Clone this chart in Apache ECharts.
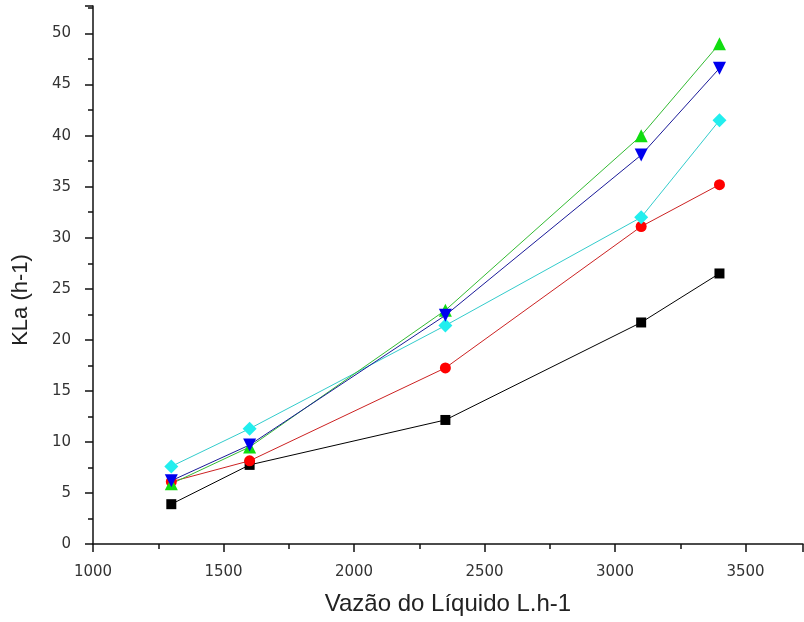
<!DOCTYPE html>
<html>
<head>
<meta charset="utf-8">
<script src="https://cdn.jsdelivr.net/npm/echarts@6/dist/echarts.min.js"></script>
<style>
  html, body { margin: 0; padding: 0; background: #fff; }
  #main { width: 804px; height: 622px; }
</style>
</head>
<body>
<div id="main"></div>
<script>
// vazão do líquido (L/h)
var vazao = [1300, 1600, 2350, 3100, 3400];

// KLa (h-1) de cada série
var serieQuadrado = [3.9, 7.75, 12.15, 21.7, 26.5];
var serieCirculo = [6.1, 8.15, 17.25, 31.1, 35.2];
var serieTriangulo = [5.9, 9.5, 22.9, 40.0, 49.0];
var serieTrianguloInv = [6.2, 9.7, 22.4, 38.1, 46.6];
var serieLosango = [7.6, 11.3, 21.4, 32.0, 41.5];

function pares(ys) {
  return vazao.map(function (x, i) { return [x, ys[i]]; });
}

var chart = echarts.init(document.getElementById('main'));

function serie(ys, symbol, size, cor, corLinha, rot) {
  return {
    type: 'line',
    data: pares(ys),
    symbol: symbol,
    symbolSize: size,
    symbolRotate: rot || 0,
    itemStyle: { color: cor },
    lineStyle: { color: corLinha, width: 1 },
    z: 2
  };
}

var fonte = 'Liberation Sans, Arial, sans-serif';
var fonteNum = 'DejaVu Sans, sans-serif';

var option = {
  backgroundColor: '#ffffff',
  animation: false,
  grid: { left: 93, right: 1, top: 6, bottom: 78, containLabel: false, outerBoundsMode: 'none' },
  xAxis: {
    type: 'value',
    min: 1000,
    max: 3720,
    interval: 500,
    name: 'Vazão do Líquido L.h-1',
    nameLocation: 'middle',
    nameGap: 48,
    nameTextStyle: { fontFamily: fonte, fontSize: 24, color: '#222' },
    axisLine: { lineStyle: { color: '#111', width: 1.5 } },
    axisTick: { length: 8, lineStyle: { color: '#111', width: 1.5 } },
    minorTick: { show: true, splitNumber: 2, length: 5, lineStyle: { color: '#111', width: 1.5 } },
    axisLabel: {
      fontFamily: fonteNum, fontSize: 15, color: '#333', margin: 21, showMaxLabel: false,
      formatter: function (v) { return String(v); }
    },
    splitLine: { show: false }
  },
  yAxis: {
    type: 'value',
    min: 0,
    max: 52.7,
    interval: 5,
    name: 'KLa (h-1)',
    nameLocation: 'middle',
    nameGap: 61,
    nameTextStyle: { fontFamily: fonte, fontSize: 22, color: '#222', padding: [0, 50, 0, 0] },
    axisLine: { show: true, lineStyle: { color: '#111', width: 1.5 } },
    axisTick: { show: true, length: 8, lineStyle: { color: '#111', width: 1.5 } },
    minorTick: { show: true, splitNumber: 2, length: 5, lineStyle: { color: '#111', width: 1.5 } },
    axisLabel: { fontFamily: fonteNum, fontSize: 15, color: '#333', margin: 22, showMaxLabel: false },
    splitLine: { show: false }
  },
  series: [
    serie(serieQuadrado, 'rect', 10, '#000000', '#000000'),
    serie(serieCirculo, 'circle', 11, '#ff0000', '#cc2222'),
    serie(serieLosango, 'diamond', 14, '#22eeee', '#33cccc'),
    serie(serieTriangulo, 'triangle', 13, '#11dd11', '#33bb33'),
    serie(serieTrianguloInv, 'triangle', 13, '#0000ee', '#1a1a99', 180)
  ]
};

chart.setOption(option);
</script>
</body>
</html>
